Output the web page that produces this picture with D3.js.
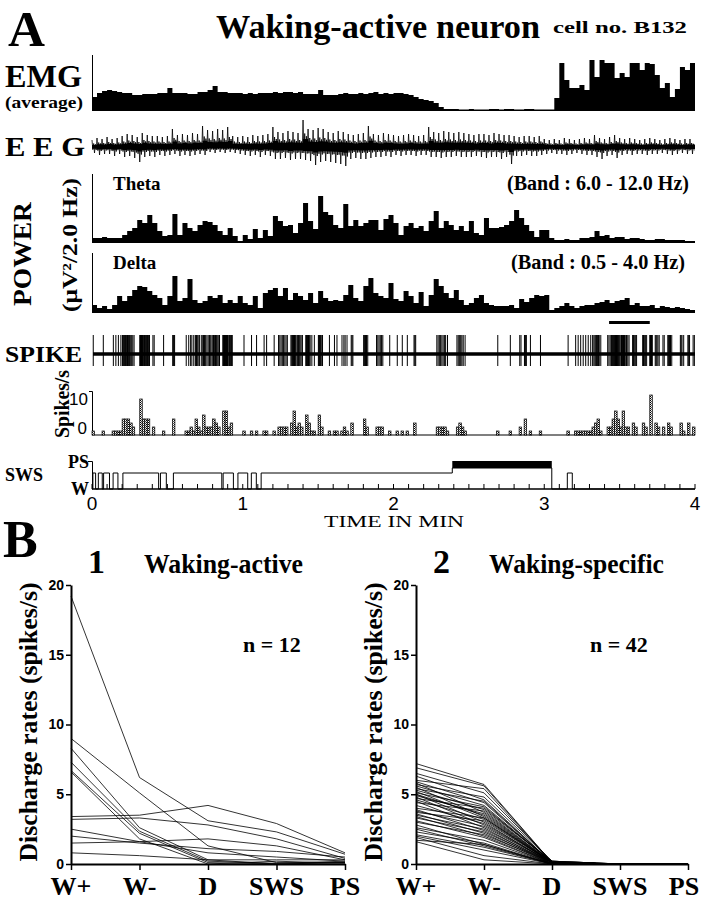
<!DOCTYPE html>
<html><head><meta charset="utf-8">
<script src="https://cdn.jsdelivr.net/npm/d3@7"></script>
<style>body{margin:0;background:#fff}svg{display:block}</style>
</head><body>
<svg id="c" width="702" height="900"></svg>
<script>
// ---------------- DATA ----------------
// 2-s bins over 4 min (120 bins); values = bar heights in arbitrary units
const emg = [14,18,20,21,20,19,18,18,16,16,17,17,17,18,18,23,18,18,18,17,17,19,19,21,25,19,19,18,18,18,
  17,18,17,18,18,18,19,18,19,19,18,19,17,17,17,21,16,16,16,17,18,17,17,18,17,18,19,17,18,17,
  18,18,17,16,14,12,11,10,8,4,2,2,2,1.5,1.5,2,1.5,1.5,1.5,2,2,1.5,2,2,1.5,1.5,2,2,1.5,1.5,
  1.5,1.5,13,48,31,23,23,26,21,51,34,51,48,48,33,38,34,48,48,41,48,47,36,23,28,14,22,44,41,48];
const theta = [5,5,6,5,5,5,8,12,15,23,20,28,20,12,7,8,29,8,20,15,12,18,22,21,18,12,8,15,7,2,
  8,4,14,5,13,7,27,22,17,18,10,20,40,22,14,47,31,28,18,15,39,17,23,17,20,23,23,13,24,28,
  20,8,17,20,15,17,12,22,32,15,22,18,13,17,12,22,10,8,25,15,15,16,18,22,33,25,18,12,6,13,
  13,5,3,3,4,3,3,5,5,6,12,7,8,5,6,6,4,5,5,4,3,3,4,4,3,3,3,3,2,2];
const delta = [8,5,7,4,8,17,12,17,23,27,26,22,18,15,8,17,37,12,15,34,13,10,12,17,15,18,10,13,10,17,
  10,8,17,5,20,23,25,17,25,13,20,17,13,20,10,22,15,12,13,12,18,28,15,12,27,35,20,17,15,30,
  14,12,22,17,10,21,7,18,34,27,20,15,23,13,8,10,15,18,10,8,7,7,7,8,5,14,11,15,18,17,
  18,3,5,7,10,7,5,7,8,8,10,11,13,10,12,13,15,8,10,7,7,8,5,7,6,5,6,5,4,3];
// EEG excursion envelope per 2-s bin (upward / downward)
const eegUp = [7,9,8,10,8,9,11,13,12,10,14,12,11,11,10,11,18,12,13,12,14,13,21,17,16,18,17,20,11,10,
  11,10,12,11,12,13,20,15,14,16,15,14,27,18,17,19,18,15,14,16,15,13,12,13,14,21,13,12,14,13,
  12,11,12,13,12,11,12,20,15,14,16,15,14,15,14,13,12,13,13,12,14,13,12,12,11,10,11,11,10,11,
  8,7,8,7,9,8,7,8,9,8,12,9,8,10,12,9,8,9,8,7,8,9,8,7,8,9,8,7,8,8];
const eegDown = [6,8,7,7,9,7,10,9,11,15,10,9,10,8,9,8,7,9,8,9,8,7,8,5,6,5,6,5,6,7,
  8,9,8,10,8,9,12,12,11,13,12,12,13,14,18,15,14,15,16,17,19,12,11,12,12,11,10,10,9,10,
  8,9,8,8,9,8,8,10,10,11,10,10,9,10,10,10,9,10,11,10,10,12,10,17,9,9,8,9,9,8,
  7,6,7,7,8,7,6,7,8,8,10,12,9,8,11,8,7,8,7,7,8,7,7,6,7,8,7,6,7,7];
// spikes per 1-s bin: [second, count]
const spikeBins = [[0,1],[4,1],[8,1],[9,1],[10,1],[11,1],[12,4],[13,4],[14,4],[15,3],[16,2],[19,9],[20,4],[21,4],[22,4],[24,2],[28,1],[32,4],[37,1],[38,1],[39,2],[40,1],[41,4],[42,2],[43,1],[44,5],[45,2],[46,2],[47,2],[48,4],[49,3],[50,2],[52,6],[53,6],[54,2],[55,3],[60,1],[63,1],[65,1],[68,1],[69,1],[72,1],[74,2],[75,2],[76,2],[77,2],[79,3],[80,6],[81,2],[82,3],[83,2],[85,5],[86,3],[87,1],[88,1],[90,5],[91,2],[94,1],[96,1],[97,1],[99,1],[100,2],[101,1],[103,3],[108,4],[109,2],[113,2],[114,2],[115,2],[118,1],[121,1],[123,1],[125,1],[128,3],[137,2],[138,2],[139,2],[140,2],[141,1],[145,2],[146,3],[147,2],[148,1],[161,1],[166,1],[170,2],[172,4],[174,1],[178,1],[189,1],[192,1],[193,1],[194,1],[195,1],[196,1],[197,1],[198,1],[199,2],[200,3],[201,4],[202,1],[205,2],[206,2],[207,4],[208,6],[209,4],[210,2],[211,6],[212,2],[213,2],[215,3],[216,2],[219,3],[220,2],[222,10],[224,3],[225,2],[227,2],[229,3],[230,2],[234,3],[235,1],[237,3],[239,2]];
// hypnogram epochs in minutes
const swsEpochs = [[0.006,0.024],[0.042,0.068],[0.077,0.116],[0.14,0.172],[0.205,0.442],[0.454,0.493],[0.54,0.861],[0.87,0.938],[0.968,1.033],[1.057,1.09],[1.122,2.39],[3.153,3.186]];
const psEpochs = [[2.39,3.05]];
const markerBar = [3.43,3.70];
const timeTicks = [0,1,2,3,4];
const hypnoLabels = ["PS","W"];
const histTickLabels = ["10","0"];
// Panel B
const categories = ["W+","W-","D","SWS","PS"];
const rateTicks = [0,5,10,15,20];
const activeRates = [
  [19.2,6.2,3.1,2.3,0.7],[3.4,3.5,4.2,2.9,0.8],[9.0,5.1,1.3,0.1,0.1],[8.3,2.6,0.3,0.0,0.1],
  [7.3,2.35,0.2,0.05,0.2],[6.7,2.2,0.1,0.0,0.1],[6.6,1.8,0.0,0.2,0.05],[3.2,3.3,2.8,1.8,0.4],
  [2.5,1.6,1.8,1.3,0.3],[2.0,1.5,1.1,0.9,0.5],[1.5,1.6,0.8,0.5,0.2],[0.8,0.6,0.3,0.3,0.3]];
const specificRates = [
  [7.2,5.7,0.1,0,0],[6.9,5.6,0.1,0,0],[6.5,5.1,0.2,0,0],[6.3,4.6,0.1,0,0],[6.0,5.4,0.1,0,0],
  [5.9,4.4,0.1,0,0],[5.8,3.7,0.1,0,0],[5.7,4.8,0.2,0,0],[5.6,4.2,0.1,0,0],[5.5,3.4,0.1,0,0],
  [5.4,4.5,0.1,0,0],[5.3,3.9,0.2,0,0],[5.2,3.3,0.1,0,0],[5.1,4.1,0.1,0,0],[5.0,3.5,0.1,0,0],
  [5.0,3.0,0.0,0,0],[4.9,3.6,0.1,0,0],[4.8,2.8,0.1,0,0],[4.7,4.0,0.2,0,0],[4.6,3.2,0.1,0,0],
  [4.5,2.6,0.0,0,0],[4.4,3.8,0.1,0,0],[4.2,2.9,0.1,0,0],[4.0,3.3,0.1,0,0],[3.9,2.4,0.0,0,0],
  [3.8,2.7,0.1,0,0],[3.7,3.1,0.1,0,0],[3.6,2.2,0.0,0,0],[3.5,2.5,0.1,0,0],[3.4,2.0,0.0,0,0],
  [3.3,2.3,0.1,0,0],[3.1,1.9,0.0,0,0],[3.0,2.1,0.1,0,0],[2.8,1.4,0.0,0,0],[2.6,1.7,0.0,0,0],
  [2.5,1.3,0.0,0,0],[2.3,1.5,0.0,0,0],[2.1,1.2,0.0,0,0],[2.0,1.0,0.0,0,0],[1.9,0.6,0.0,0,0],
  [1.7,1.4,0.0,0,0],[1.6,0.3,0.0,0,0]];

// ---------------- DRAWING ----------------
const svg = d3.select("#c");
const SERIF = "'Liberation Serif','Times New Roman',serif";
const NARROW = "'Liberation Sans Narrow','Arial Narrow','Liberation Sans',sans-serif";
function text(x, y, s, size, o = {}) {
  const t = svg.append("text").attr("x", x).attr("y", y).text(s)
    .attr("font-family", o.family || SERIF).attr("font-size", size)
    .attr("font-weight", o.weight || "bold").attr("fill", "#000")
    .attr("text-anchor", o.anchor || "start");
  if (o.len) t.attr("textLength", o.len).attr("lengthAdjust", "spacingAndGlyphs");
  if (o.rot) t.attr("transform", `rotate(-90,${x},${y})`);
  return t;
}
const defs = svg.append("defs");
const pat = defs.append("pattern").attr("id", "dots").attr("width", 2).attr("height", 2).attr("patternUnits", "userSpaceOnUse");
pat.append("rect").attr("width", 2).attr("height", 2).attr("fill", "#fff");
pat.append("rect").attr("width", 1).attr("height", 1).attr("fill", "#000");
pat.append("rect").attr("x", 1).attr("y", 1).attr("width", 1).attr("height", 1).attr("fill", "#555");

const x = d3.scaleLinear().domain([0, 4]).range([92, 695]);
const BIN = 1 / 30;

// titles
text(8, 46, "A", 50, {len: 37});
text(216, 38, "Waking-active neuron", 33, {len: 324});
text(553, 33, "cell no. B132", 16, {len: 134});

// generic bar-trace drawer
function barTrace(vals, y0, yTop, maxVal) {
  const y = d3.scaleLinear().domain([0, maxVal]).range([y0, yTop]);
  const pts = vals.map((v, i) => [i * BIN, v]);
  pts.push([4, vals[vals.length - 1]]);
  svg.append("path").datum(pts)
    .attr("d", d3.area().x(d => x(d[0])).y0(y0).y1(d => y(d[1])).curve(d3.curveStepAfter))
    .attr("fill", "#000");
  svg.append("line").attr("x1", 92.5).attr("x2", 92.5).attr("y1", yTop).attr("y2", y0)
    .attr("stroke", "#000").attr("stroke-width", 1);
}
// EMG
text(5, 87, "EMG", 31, {len: 77});
text(5, 108, "(average)", 17, {len: 78});
barTrace(emg, 111, 55, 56);

// EEG
text(5, 156, "E E G", 28, {len: 80});
const EEG0 = 147;
const eegPts = [];
eegUp.forEach((u, i) => {
  const d = eegDown[i];
  const xs = x(i * BIN);
  const st = (x((i + 1) * BIN) - xs) / 6;
  eegPts.push([xs, EEG0 - u], [xs + st, EEG0 + 0.45 * d], [xs + 2 * st, EEG0 - 0.5 * u],
    [xs + 3 * st, EEG0 + d], [xs + 4 * st, EEG0 - 0.4 * u], [xs + 5 * st, EEG0 + 0.5 * d]);
});
svg.append("path").datum(eegUp.map((u, i) => [i * BIN, u, eegDown[i]]).concat([[4, eegUp[119], eegDown[119]]]))
  .attr("d", d3.area().x(d => x(d[0])).y0(d => EEG0 + 0.3 * d[2]).y1(d => EEG0 - 0.3 * d[1]).curve(d3.curveStepAfter))
  .attr("fill", "#000");
svg.append("path").datum(eegPts).attr("d", d3.line())
  .attr("fill", "none").attr("stroke", "#000").attr("stroke-width", 0.8);

// POWER
text(31, 254, "POWER", 26, {rot: true, anchor: "middle", len: 104});
text(77, 245, "(\u03bcV\u00b2/2.0 Hz)", 22, {rot: true, anchor: "middle", len: 134});
barTrace(theta, 243, 174, 69);
text(113, 190, "Theta", 19);
text(507, 190, "(Band : 6.0 - 12.0 Hz)", 20, {len: 182});
barTrace(delta, 313, 253, 60);
text(113, 269, "Delta", 19);
text(511, 269, "(Band : 0.5 - 4.0 Hz)", 20, {len: 174});
svg.append("rect").attr("x", x(markerBar[0])).attr("width", x(markerBar[1]) - x(markerBar[0]))
  .attr("y", 321).attr("height", 3).attr("fill", "#000");

// SPIKE trace
text(5, 362, "SPIKE", 24, {len: 77});
const SP0 = 354;
svg.append("line").attr("x1", 93).attr("x2", 695).attr("y1", SP0).attr("y2", SP0)
  .attr("stroke", "#000").attr("stroke-width", 3.5);
const spikeTimes = [];
spikeBins.forEach(([s, n]) => { for (let k = 0; k < n; k++) spikeTimes.push((s + (k + 0.5) / n) / 60); });
svg.append("g").selectAll("line").data(spikeTimes).join("line")
  .attr("x1", d => x(d)).attr("x2", d => x(d)).attr("y1", SP0 - 19).attr("y2", SP0 + 12)
  .attr("stroke", "#000").attr("stroke-width", 1);

// Spikes/s histogram
const HB = 435;
const yh = d3.scaleLinear().domain([0, 11]).range([HB, 391]);
text(69, 404, "Spikes/s", 21, {rot: true, anchor: "middle", len: 68});
text(88, 405, histTickLabels[0], 17, {family: NARROW, weight: "normal", anchor: "end"});
text(87, 434, histTickLabels[1], 17, {family: NARROW, weight: "normal", anchor: "end"});
svg.append("path").attr("d", `M89,391.5H92.5V${HB}`).attr("fill", "none").attr("stroke", "#000").attr("stroke-width", 1);
svg.append("line").attr("x1", 92).attr("x2", 695).attr("y1", HB).attr("y2", HB).attr("stroke", "#555").attr("stroke-width", 1.5);
const binW = x(1 / 60) - x(0);
svg.append("g").selectAll("rect").data(spikeBins).join("rect")
  .attr("x", d => x(d[0] / 60)).attr("width", binW)
  .attr("y", d => yh(d[1])).attr("height", d => HB - yh(d[1]))
  .attr("fill", "url(#dots)").attr("stroke", "#000").attr("stroke-width", 0.7);

// Hypnogram
const LV = {W: 489, SWS: 473, PS: 468};
const PS_TOP = 461;
const epochs = swsEpochs.map(e => [e[0], e[1], "SWS"]).concat(psEpochs.map(e => [e[0], e[1], "PS"]))
  .sort((a, b) => a[0] - b[0]);
const hp = [[0, "W"]];
epochs.forEach((e, i) => {
  hp.push([e[0], e[2]]);
  const nx = epochs[i + 1];
  if (!(nx && Math.abs(nx[0] - e[1]) < 1e-9)) hp.push([e[1], "W"]);
});
hp.push([4, "W"]);
svg.append("path").datum(hp)
  .attr("d", d3.line().x(d => x(d[0])).y(d => LV[d[1]]).curve(d3.curveStepAfter))
  .attr("fill", "none").attr("stroke", "#000").attr("stroke-width", 1);
psEpochs.forEach(e => svg.append("rect").attr("x", x(e[0])).attr("width", x(e[1]) - x(e[0]))
  .attr("y", PS_TOP).attr("height", LV.PS - PS_TOP).attr("fill", "#000"));
text(5, 481, "SWS", 18);
text(89, 468, hypnoLabels[0], 18, {anchor: "end"});
text(89, 495, hypnoLabels[1], 18, {anchor: "end"});
svg.append("path").attr("d", `M88,${PS_TOP}.5H92.5V${LV.W}`).attr("fill", "none").attr("stroke", "#000").attr("stroke-width", 1);
// time axis
svg.append("line").attr("x1", 92).attr("x2", 695).attr("y1", LV.W).attr("y2", LV.W).attr("stroke", "#000").attr("stroke-width", 1.5);
const minor = d3.range(0, 41).map(i => i / 10);
svg.append("g").selectAll("line").data(minor).join("line")
  .attr("x1", d => x(d)).attr("x2", d => x(d)).attr("y1", LV.W).attr("y2", LV.W - 5)
  .attr("stroke", "#000").attr("stroke-width", 1);
svg.append("g").selectAll("text").data(timeTicks).join("text")
  .attr("x", d => x(d)).attr("y", 510).text(d => d).attr("text-anchor", "middle")
  .attr("font-family", NARROW).attr("font-size", 19);
text(324, 527, "TIME  IN  MIN", 16, {weight: "normal", len: 140});

// ---------------- Panel B ----------------
text(3, 557, "B", 52);
function ratePanel(rows, x0, x1, num, title, titleLen, nLabel, nx) {
  const xp = d3.scalePoint().domain(categories).range([x0, x1]);
  const y = d3.scaleLinear().domain([0, 20]).range([864, 585]);
  const gy = svg.append("g").attr("transform", `translate(${x0},0)`)
    .call(d3.axisLeft(y).tickValues(rateTicks).tickSize(5).tickSizeOuter(0).tickPadding(2));
  gy.select(".domain").attr("stroke-width", 2);
  gy.selectAll(".tick line").attr("stroke-width", 1.5);
  gy.selectAll("text").attr("font-family", NARROW).attr("font-weight", "bold").attr("font-size", 14);
  const gx = svg.append("g").attr("transform", "translate(0,864)")
    .call(d3.axisBottom(xp).tickSize(6).tickSizeOuter(0).tickFormat(""));
  gx.select(".domain").attr("stroke-width", 2);
  gx.selectAll(".tick line").attr("stroke-width", 1.5);
  categories.forEach(c => text(Math.min(xp(c), 684), 895, c, 26, {anchor: "middle"}));
  const line = d3.line().x((d, i) => xp(categories[i])).y(d => y(d));
  svg.append("g").selectAll("path").data(rows).join("path")
    .attr("d", line).attr("fill", "none").attr("stroke", "#000").attr("stroke-width", 0.8);
  text(x0 - 34, 722, "Discharge rates (spikes/s)", 26, {rot: true, anchor: "middle", len: 279});
  text(x0 + 17, 573, num, 34, {});
  text(x0 + 73, 573, title, 27, {len: titleLen});
  text(nx, 652, nLabel, 22, {});
}
ratePanel(activeRates, 71, 345, "1", "Waking-active", 159, "n = 12", 243);
ratePanel(specificRates, 416, 688, "2", "Waking-specific", 175, "n = 42", 590);
</script>
</body></html>
